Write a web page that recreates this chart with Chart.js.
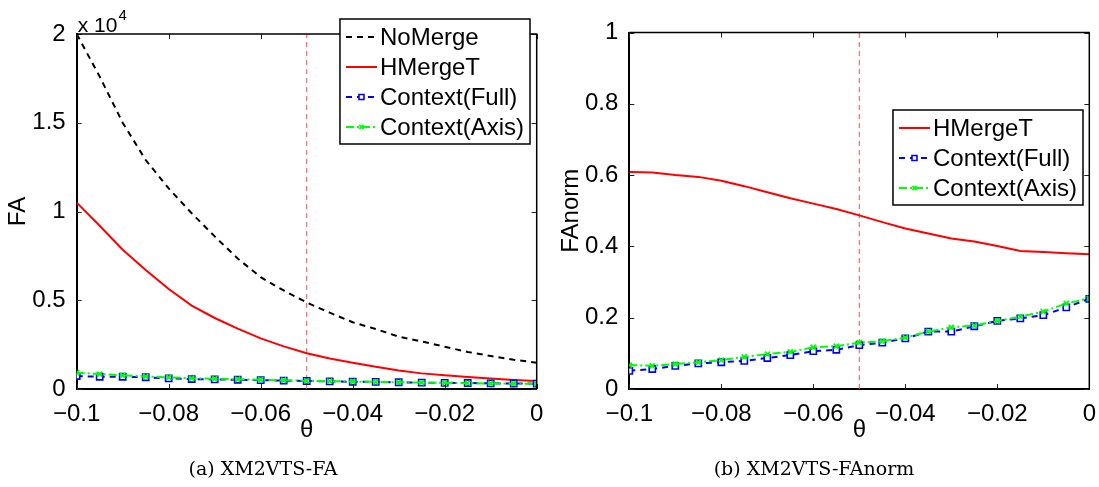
<!DOCTYPE html>
<html><head><meta charset="utf-8">
<script src="https://cdn.jsdelivr.net/npm/chart.js@4.4.0/dist/chart.umd.min.js"></script>
<style>
html,body{margin:0;padding:0;background:#fff;width:1099px;height:487px;overflow:hidden}
.w{position:absolute;top:0;height:487px}
</style></head><body>
<div class="w" style="left:0;width:550px"><canvas id="c1"></canvas></div>
<div class="w" style="left:550px;width:549px"><canvas id="c2"></canvas></div>
<script>
// ---- data ----
const theta = [-0.1,-0.095,-0.09,-0.085,-0.08,-0.075,-0.07,-0.065,-0.06,-0.055,-0.05,-0.045,-0.04,-0.035,-0.03,-0.025,-0.02,-0.015,-0.01,-0.005,0];
const faNoMerge = [20000,17600,15000,12900,11300,9900,8600,7350,6300,5550,4870,4300,3760,3380,2950,2680,2380,2090,1860,1650,1480];
const faHMergeT = [10500,9200,7850,6700,5630,4700,4000,3400,2850,2400,2010,1720,1480,1250,1040,880,770,670,590,510,450];
const faFull = [730,690,690,660,600,560,540,520,500,470,450,430,410,400,380,360,350,340,320,310,300];
const faAxis = [920,840,770,710,660,600,580,550,520,490,460,440,420,400,380,360,340,330,310,300,290];
const normHMergeT = [0.609,0.607,0.600,0.595,0.584,0.569,0.552,0.535,0.520,0.505,0.487,0.468,0.450,0.436,0.422,0.414,0.401,0.387,0.384,0.381,0.378];
const normFull = [0.051,0.056,0.065,0.072,0.075,0.079,0.087,0.095,0.106,0.110,0.123,0.130,0.142,0.161,0.161,0.176,0.191,0.198,0.207,0.229,0.253];
const normAxis = [0.067,0.065,0.070,0.075,0.081,0.090,0.098,0.104,0.117,0.120,0.130,0.134,0.144,0.161,0.173,0.178,0.191,0.203,0.217,0.240,0.254];
const thresholdTheta = -0.05;
const xTickLabels = ['\u22120.1','\u22120.08','\u22120.06','\u22120.04','\u22120.02','0'];
const faTickLabels = ['0','0.5','1','1.5','2'];
const normTickLabels = ['0','0.2','0.4','0.6','0.8','1'];
const faRange = [0, 20000];
const normRange = [0, 1];
const legendNames = {noMerge:'NoMerge', hMergeT:'HMergeT', full:'Context(Full)', axis:'Context(Axis)'};
const captions = ['(a) XM2VTS-FA', '(b) XM2VTS-FAnorm'];

// ---- helpers ----
const FONT = '"Liberation Sans", Arial, Helvetica, sans-serif';
const FS = 24;
const pts = arr => arr.map((v,i)=>({x:theta[i], y:v}));

function dsNoMerge(d){return {label:legendNames.noMerge,data:pts(d),borderColor:'#000',borderWidth:2,borderDash:[6,5],pointRadius:0,order:4};}
function dsHMergeT(d){return {label:legendNames.hMergeT,data:pts(d),borderColor:'#ff0000',borderWidth:2,pointRadius:0,order:3};}
function dsFull(d){return {label:legendNames.full,data:pts(d),borderColor:'#0000ff',borderWidth:2,borderDash:[6,5],
  pointStyle:'rect',pointRadius:4.4,pointBorderWidth:1.6,pointBorderColor:'#0000ff',pointBackgroundColor:'#ffffff',order:2};}
function dsAxis(d){return {label:legendNames.axis,data:pts(d),borderColor:'#00ff00',borderWidth:2,borderDash:[8,3,2,3],
  pointStyle:'crossRot',pointRadius:3.6,pointBorderWidth:1.8,pointBorderColor:'#00ff00',pointBackgroundColor:'#00ff00',order:1};}
function dsThr(r){return {label:'_thr',data:[{x:thresholdTheta,y:r[0]},{x:thresholdTheta,y:r[1]}],borderColor:'#ff5050',borderWidth:1,borderDash:[5,4],pointRadius:0,order:5};}

const framePlugin = {
  id:'frame',
  afterDraw(chart, args, opts){
    const ctx = chart.ctx, a = chart.chartArea;
    const xs = chart.scales.x, ys = chart.scales.y;
    ctx.save();
    // inward ticks
    ctx.strokeStyle = '#222'; ctx.lineWidth = 1; ctx.setLineDash([]);
    xs.ticks.forEach(t=>{const p=Math.round(xs.getPixelForValue(t.value))+0.5;
      ctx.beginPath();ctx.moveTo(p,a.bottom);ctx.lineTo(p,a.bottom-5);ctx.moveTo(p,a.top);ctx.lineTo(p,a.top+5);ctx.stroke();});
    ys.ticks.forEach(t=>{const p=Math.round(ys.getPixelForValue(t.value))+0.5;
      ctx.beginPath();ctx.moveTo(a.left,p);ctx.lineTo(a.left+5,p);ctx.moveTo(a.right,p);ctx.lineTo(a.right-5,p);ctx.stroke();});
    // top / right frame
    ctx.strokeStyle='#000'; ctx.lineWidth=1.5;
    ctx.beginPath();ctx.moveTo(a.left,a.top);ctx.lineTo(a.right,a.top);ctx.lineTo(a.right,a.bottom);ctx.stroke();
    // exponent
    if (opts.exponent){
      ctx.fillStyle='#000'; ctx.textBaseline='alphabetic'; ctx.textAlign='left';
      ctx.font='21px '+FONT; const base='x 10';
      ctx.fillText(base,a.left+1,a.top-2);
      const w=ctx.measureText(base).width;
      ctx.font='15px '+FONT; ctx.fillText(opts.exponent,a.left+1+w+1,a.top-14);
    }
    // legend
    const L = opts.legend;
    ctx.font=FS+'px '+FONT;
    const items = chart.data.datasets.filter(d=>!d.label.startsWith('_')).sort((p,q)=>q.order-p.order);
    const maxW = Math.max(...items.map(d=>ctx.measureText(d.label).width));
    const bw = 40+maxW+6, bh = items.length*30+5;
    const bx = a.right - L.rightInset - bw, by = L.top;
    ctx.fillStyle='#fff'; ctx.fillRect(bx,by,bw,bh);
    ctx.strokeStyle='#000'; ctx.lineWidth=1.5; ctx.strokeRect(bx,by,bw,bh);
    items.forEach((d,i)=>{
      const cy = by+18+i*30;
      ctx.save();
      ctx.strokeStyle=d.borderColor; ctx.lineWidth=d.borderWidth; ctx.setLineDash(d.borderDash||[]);
      ctx.beginPath(); ctx.moveTo(bx+6,cy); ctx.lineTo(bx+37,cy); ctx.stroke();
      ctx.setLineDash([]);
      if (d.pointRadius>0){
        ctx.strokeStyle=d.pointBorderColor; ctx.fillStyle=d.pointBackgroundColor; ctx.lineWidth=d.pointBorderWidth;
        Chart.helpers.drawPoint(ctx,{pointStyle:d.pointStyle,rotation:0,radius:d.pointRadius*0.8,borderWidth:d.pointBorderWidth},bx+21.5,cy);
      }
      ctx.restore();
      ctx.fillStyle='#000'; ctx.textAlign='left'; ctx.textBaseline='middle';
      ctx.fillText(d.label,bx+40,cy+1);
    });
    // caption
    ctx.font='19px "DejaVu Serif", "Liberation Serif", serif';
    ctx.fillStyle='#000'; ctx.textAlign='center'; ctx.textBaseline='middle';
    ctx.fillText(opts.caption, opts.captionX, 470);
    ctx.restore();
  }
};

function makeChart(id, datasets, yRange, yStep, yLabels, yTitle, geom, plug){
  return new Chart(document.getElementById(id), {
    type:'line',
    data:{datasets},
    plugins:[framePlugin],
    options:{
      responsive:true, maintainAspectRatio:false, animation:false,
      layout:{padding:{left:0,top:geom.top,right:geom.right,bottom:0}},
      plugins:{legend:{display:false},tooltip:{enabled:false},frame:plug},
      elements:{line:{tension:0,fill:false}},
      scales:{
        x:{type:'linear',min:-0.1,max:0,
          afterFit(s){s.height=487-geom.bottom;},
          ticks:{stepSize:0.02,autoSkip:false,maxRotation:0,padding:3,color:'#000',font:{family:FONT,size:FS},
            callback:(v,i)=>xTickLabels[i]},
          grid:{display:false},
          border:{display:true,color:'#000',width:2},
          title:{display:true,text:'\u03b8',color:'#000',font:{family:FONT,size:FS},padding:{top:0,bottom:42}}
        },
        y:{type:'linear',min:yRange[0],max:yRange[1],
          afterFit(s){s.width=geom.left;},
          ticks:{stepSize:yStep,autoSkip:false,padding:3,color:'#000',font:{family:FONT,size:FS},
            callback:(v,i)=>yLabels[i]},
          grid:{display:false},
          border:{display:true,color:'#000',width:2},
          title:{display:true,text:yTitle,color:'#000',font:{family:FONT,size:FS},padding:{top:geom.titlePad,bottom:0}}
        }
      }
    }
  });
}

makeChart('c1',
  [dsThr(faRange), dsNoMerge(faNoMerge), dsHMergeT(faHMergeT), dsFull(faFull), dsAxis(faAxis)],
  faRange, 5000, faTickLabels, 'FA',
  {left:76.7, right:13.3, top:34, bottom:389, titlePad:4},
  {legend:{rightInset:6.7, top:19}, exponent:'4', caption:captions[0], captionX:263});

makeChart('c2',
  [dsThr(normRange), dsHMergeT(normHMergeT), dsFull(normFull), dsAxis(normAxis)],
  normRange, 0.2, normTickLabels, 'FAnorm',
  {left:79.3, right:9.7, top:32.5, bottom:389, titlePad:7},
  {legend:{rightInset:6.3, top:110}, exponent:null, caption:captions[1], captionX:264});
</script>
</body></html>
